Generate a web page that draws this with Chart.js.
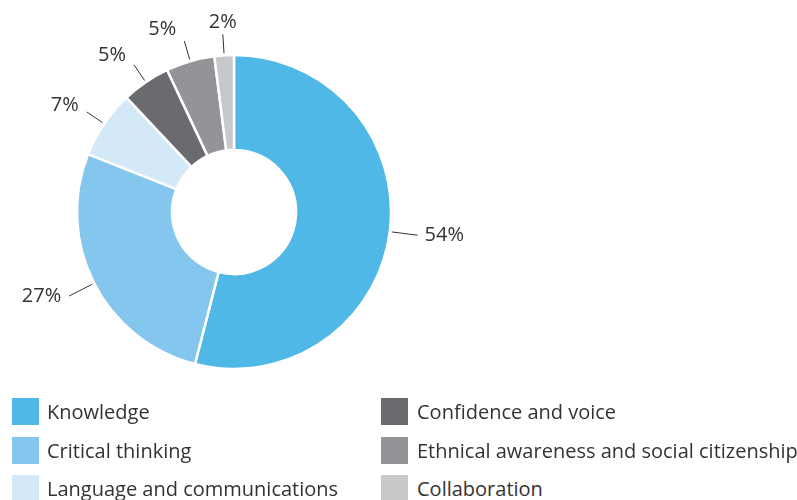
<!DOCTYPE html>
<html>
<head>
<meta charset="utf-8">
<script src="https://cdn.jsdelivr.net/npm/chart.js@4/dist/chart.umd.min.js"></script>
<style>
  html, body { margin: 0; padding: 0; background: #fff; }
  #wrap { position: relative; width: 797px; height: 500px; overflow: hidden; font-family: "Open Sans", sans-serif; color: #333; }
  #chart-box { position: absolute; left: 0; top: 0; width: 797px; height: 424px; }
  .legend-item { position: absolute; height: 27px; line-height: 27px; font-size: 20px; white-space: nowrap; }
  .legend-item .sw { position: absolute; left: 0; top: 0; width: 27px; height: 27px; }
  .legend-item .tx { position: absolute; top: 0; }
</style>
</head>
<body>
<div id="wrap">
  <div id="chart-box"><canvas id="donut"></canvas></div>
  <div id="legend"></div>
</div>
<script>
const categories = [
  "Knowledge",
  "Critical thinking",
  "Language and communications",
  "Confidence and voice",
  "Ethnical awareness and social citizenship",
  "Collaboration",
];
const shares = [54, 27, 7, 5, 5, 2];
const colors = ["#4fb8e7", "#84c6ee", "#d4e9f7", "#6a6b6f", "#929497", "#c7c8ca"];

const textColor = "#333";

// labels outside the ring with a short leader line
const outsideLabels = {
  id: "outsideLabels",
  afterDatasetsDraw(chart) {
    const ctx = chart.ctx;
    const meta = chart.getDatasetMeta(0);
    ctx.save();
    ctx.font = "20px 'Open Sans', sans-serif";
    ctx.fillStyle = textColor;
    ctx.strokeStyle = textColor;
    ctx.lineWidth = 1;
    meta.data.forEach((arc, i) => {
      const { x, y, startAngle, endAngle, outerRadius } = arc.getProps(["x", "y", "startAngle", "endAngle", "outerRadius"], true);
      const mid = (startAngle + endAngle) / 2;
      const dx = Math.cos(mid), dy = Math.sin(mid);
      // upper labels sit on shorter leaders
      const r1 = outerRadius + 2, r2 = outerRadius + (dy < -0.3 ? 21 : 28);
      const ex = x + dx * r2, ey = y + dy * r2;
      ctx.beginPath();
      ctx.moveTo(x + dx * r1, y + dy * r1);
      ctx.lineTo(ex, ey);
      ctx.stroke();

      const label = shares[i] + "%";
      let tx, align;
      if (Math.abs(dx) < 0.15) { tx = ex; align = "center"; }
      else if (dx < 0) { tx = ex - 8; align = "right"; }
      else { tx = ex + 7; align = "left"; }
      const ty = ey + Math.min(0, dy) * 12;
      ctx.textAlign = align;
      ctx.textBaseline = "middle";
      ctx.fillText(label, tx, ty);
    });
    ctx.restore();
  },
};

new Chart(document.getElementById("donut"), {
  type: "doughnut",
  data: {
    labels: categories,
    datasets: [{
      data: shares,
      backgroundColor: colors,
      borderColor: "#fff",
      borderWidth: 2.5,
    }],
  },
  options: {
    responsive: true,
    maintainAspectRatio: false,
    animation: false,
    radius: 157,
    cutout: "39.5%",
    layout: { padding: { left: 0, right: 329, top: 0, bottom: 0 } },
    plugins: {
      legend: { display: false },
      tooltip: { enabled: false },
    },
  },
  plugins: [outsideLabels],
});

// two-column legend, column-major like the source
const legend = document.getElementById("legend");
const colX = [12, 381];
const rowY = [398, 437, 475];
categories.forEach((name, i) => {
  const col = Math.floor(i / 3), row = i % 3;
  const item = document.createElement("div");
  item.className = "legend-item";
  item.style.left = colX[col] + "px";
  item.style.top = rowY[row] + "px";
  item.innerHTML = '<span class="sw"></span><span class="tx"></span>';
  item.querySelector(".sw").style.background = colors[i];
  const tx = item.querySelector(".tx");
  tx.style.left = (col === 0 ? 35 : 36) + "px";
  tx.textContent = name;
  legend.appendChild(item);
});
</script>
</body>
</html>
